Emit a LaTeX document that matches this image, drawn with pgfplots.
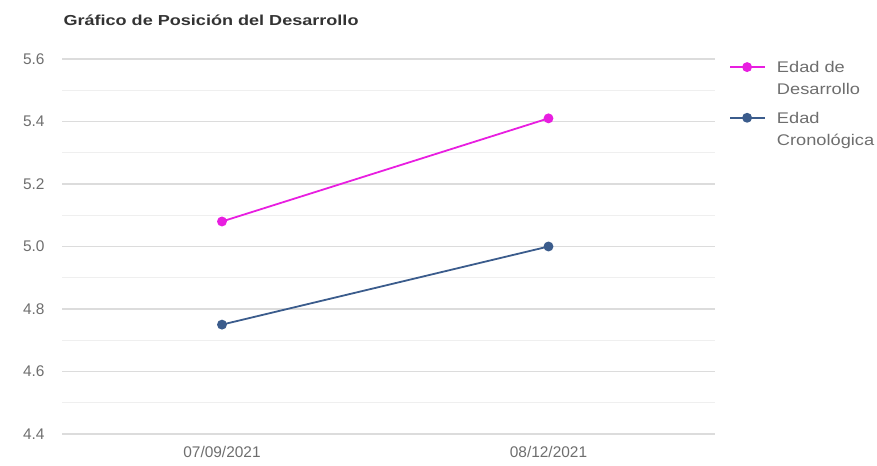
\documentclass[border=0pt]{standalone}
\usepackage{pgfplots}
\pgfplotsset{compat=1.18}
\usepackage{fontspec}
\setmainfont{Liberation Sans}
\newfontfamily\titlefont[FakeStretch=1.25]{Liberation Sans}
\newfontfamily\legfont[FakeStretch=1.18]{Liberation Sans}
\definecolor{pinkc}{HTML}{E81EE0}
\definecolor{bluec}{HTML}{3B5C8C}
\definecolor{tickc}{HTML}{6E6E6E}
\definecolor{gridmaj}{HTML}{DCDCDC}
\definecolor{gridmin}{HTML}{EFEFEF}
\begin{document}
\begin{tikzpicture}
\useasboundingbox (-62bp,-32bp) rectangle (815bp,434bp);
\begin{axis}[
  at={(0,0)}, anchor=south west,
  scale only axis, width=653bp, height=375bp,
  xmin=-0.49, xmax=1.51,
  ymin=4.4, ymax=5.6,
  xtick={0,1}, xticklabels={07/09/2021,08/12/2021},
  ytick={4.4,4.6,...,5.6},
  minor ytick={4.5,4.7,...,5.5},
  /pgf/number format/fixed,
  /pgf/number format/fixed zerofill,
  /pgf/number format/precision=1,
  /pgf/number format/assume math mode=true,
  ymajorgrids, yminorgrids,
  major grid style={gridmaj, line width=1.1pt},
  minor grid style={gridmin, line width=1.1pt},
  axis line style={draw=none},
  major tick length=0pt, minor tick length=0pt,
  tick label style={font=\fontsize{15.5}{18}\selectfont, text=tickc},
  yticklabel style={xshift=-14bp},
  xticklabel style={yshift=-9bp},
  title={\titlefont\bfseries Gráfico de Posición del Desarrollo},
  title style={at={(axis description cs:0,1)}, anchor=base west, yshift=28bp, xshift=-2bp, font=\fontsize{14.5}{16}\selectfont, text=black!80},
  legend style={at={(axis description cs:1,1)}, anchor=north west, xshift=14bp, yshift=4bp, draw=none, fill=none, font=\legfont\fontsize{15.5}{22}\selectfont, text=tickc, row sep=8bp, cells={align=left, anchor=north west}, inner sep=0pt},
  legend image code/.code={
    \path (0bp,3bp) (44bp,-8bp);
    \draw[#1, mark=none, line width=1.8pt] (0bp,-8bp) -- (35bp,-8bp);
    \fill[#1] (17bp,-8bp) circle (4bp);
  },
  clip=false,
]
\addplot[pinkc, line width=1.8pt, mark=*, mark size=4bp, mark options={fill=pinkc, draw=pinkc}] coordinates {(0,5.08) (1,5.41)};
\addlegendentry{Edad de\\Desarrollo}
\addplot[bluec, line width=1.8pt, mark=*, mark size=4bp, mark options={fill=bluec, draw=bluec}] coordinates {(0,4.75) (1,5.0)};
\addlegendentry{Edad\\Cronológica}
\end{axis}
\end{tikzpicture}
\end{document}
